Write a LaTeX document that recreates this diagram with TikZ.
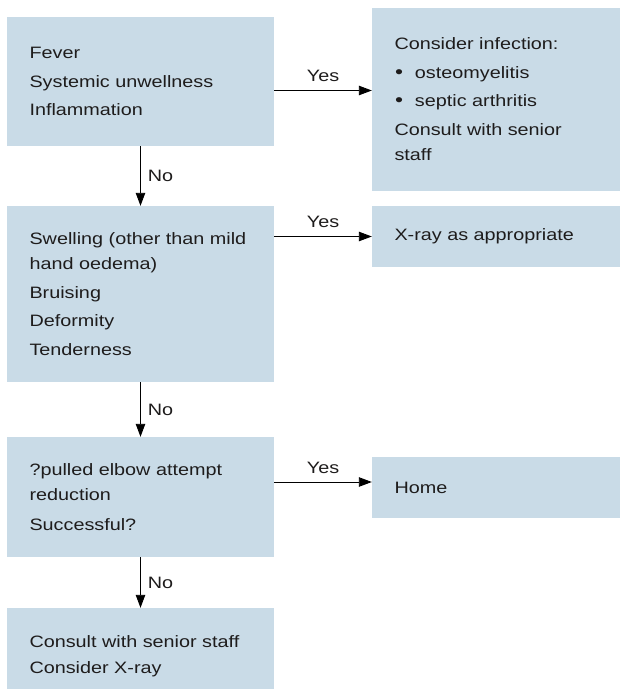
\documentclass[tikz,border=0pt]{standalone}
\usepackage{fontspec}
\setmainfont{Liberation Sans}[FakeStretch=1.2]
\usetikzlibrary{arrows.meta,positioning}
\definecolor{boxblue}{RGB}{201,219,231}
\definecolor{inktext}{RGB}{30,28,28}
\newcommand{\itembul}{\hspace*{0.5pt}{\fontsize{19}{19}\selectfont\textbullet}\hspace{12pt}}

\begin{document}
\begin{tikzpicture}[
  x=1pt, y=-1pt,
  font=\fontsize{16.5}{25.5}\selectfont,
  lbox/.style={fill=boxblue, text=inktext, minimum width=267pt, text width=222pt, inner xsep=22.5pt, inner ysep=0pt, align=left},
  rbox/.style={fill=boxblue, text=inktext, minimum width=248pt, text width=203pt, inner xsep=22.5pt, inner ysep=0pt, align=left},
  lbl/.style={text=inktext},
  flow/.style={-{Triangle[length=13pt,width=9.5pt]}, line width=0.9pt}
]
  \useasboundingbox (0,0) rectangle (620,689);
  \clip (0,0) rectangle (620,689);

  %% Left column: questions
  \node[lbox, minimum height=129pt] (fever) at (140.5,81.5) {Fever\\[3pt]Systemic unwellness\\[3pt]Inflammation};
  \node[lbox, minimum height=176pt] (swell) at (140.5,294) {Swelling (other than mild\\hand oedema)\\[3pt]Bruising\\[3pt]Deformity\\[3pt]Tenderness};
  \node[lbox, minimum height=120pt] (pulled) at (140.5,497) {?pulled elbow attempt\\reduction\\[4pt]Successful?};
  \node[lbox, minimum height=96pt] (senior) at (140.5,656) {Consult with senior staff\\Consider X-ray};

  %% Right column: outcomes
  \node[rbox, minimum height=183pt] (infect) at (496,99.5) {Consider infection:\\[3pt]\itembul osteomyelitis\\[3pt]\itembul septic arthritis\\[3pt]Consult with senior\\staff};
  \node[rbox, minimum height=61pt] (xray) at (496,236.5) {X-ray as appropriate};
  \node[rbox, minimum height=61pt] (home) at (496,487.5) {Home};

  %% Yes branches
  \draw[flow] ([yshift=-9pt]fever.east) -- node[lbl, above=5pt] {Yes} ([yshift=-9pt]fever.east -| infect.west);
  \draw[flow] (swell.east |- xray.west) -- node[lbl, above=5pt] {Yes} (xray.west);
  \draw[flow] ([yshift=15pt]pulled.east) -- node[lbl, above=5pt] {Yes} ([yshift=15pt]pulled.east -| home.west);

  %% No branches
  \draw[flow] (fever) -- node[lbl, right=3.5pt] {No} (swell);
  \draw[flow] (swell) -- node[lbl, right=3.5pt] {No} (pulled);
  \draw[flow] (pulled) -- node[lbl, right=3.5pt] {No} (senior);
\end{tikzpicture}
\end{document}
